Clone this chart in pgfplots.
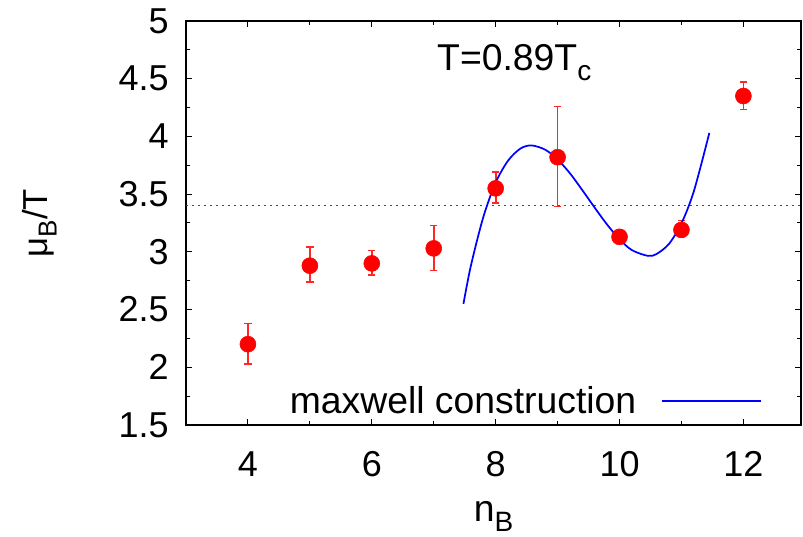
\documentclass[border=0pt]{standalone}
\usepackage{fontspec}
\setmainfont{Liberation Sans}
\usepackage{graphicx}
\usepackage{pgfplots}
\pgfplotsset{compat=1.18}
\usetikzlibrary{calc}
% gnuplot-like lowered subscript
\newcommand{\sub}[1]{\raisebox{-0.27em}{\scalebox{0.75}{#1}}}
\pgfplotsset{longsample/.style={legend image code/.code={\draw[##1] (0pt,0pt) -- (74pt,0pt);}}}

\begin{document}
\begin{tikzpicture}
\begin{axis}[
  scale only axis,
  width=461.25pt, height=303pt,
  xmin=3, xmax=12.93, ymin=1.5, ymax=5,
  xtick={4,6,8,10,12},
  ytick={1.5,2,2.5,3,3.5,4,4.5,5},
  minor x tick num=1, minor y tick num=1,
  tick align=inside,
  major tick length=4.5pt, minor tick length=3pt,
  every tick/.style={black, line width=0.75pt},
  axis line style={line width=1.2pt},
  /pgf/number format/assume math mode=true,
  tick label style={font=\fontsize{27}{30}\selectfont, inner sep=0pt},
  xticklabel style={yshift=-19.5pt},
  yticklabel style={xshift=-12.75pt},
  xlabel={n\sub{B}},
  ylabel={μ\sub{B}/T},
  xlabel style={font=\fontsize{28}{32}\selectfont, at={(rel axis cs:0.5,0)}, anchor=base, yshift=-72.5pt},
  ylabel style={font=\fontsize{26}{30}\selectfont, at={($(rel axis cs:0,0.5)+(-110pt,0)$)}, anchor=center},
  legend style={draw=none, fill=none, inner sep=0pt,
    at={(axis description cs:0.9366,0.0594)}, anchor=east,
    font=\fontsize{28}{32}\selectfont, column sep=18.75pt,
    nodes={inner sep=0pt}},
  legend plot pos=right,
]

% horizontal reference line
\addplot[draw=blue!80!white, line width=1pt, dash pattern=on 1.6pt off 2.9pt, forget plot]
  coordinates {(3,3.4) (12.93,3.4)};

% lattice data with errors
\addplot[only marks, mark=*, mark size=6pt, color=red, forget plot,
  error bars/.cd, y dir=both, y explicit,
  error bar style={draw=red!85!white, line width=1.3pt},
  error mark options={draw=red!85!white, rotate=90, mark size=2.75pt, line width=1.1pt}]
  table[x=x, y=y, y error plus=ep, y error minus=em] {
x  y    ep    em
4  2.20 0.18  0.17
5  2.88 0.16  0.14
6  2.90 0.11  0.10
7  3.03 0.20  0.19
8  3.55 0.14  0.125
9  3.82 0.44  0.425
10 3.13 0.02  0.02
11 3.19 0.08  0.05
12 4.35 0.12  0.115
};

% maxwell construction curve
\addplot[blue, line width=1.3pt, smooth, longsample]
  coordinates {
(7.48,2.55) (7.6,2.88) (7.8,3.30) (8.0,3.60) (8.2,3.79) (8.4,3.895)
(8.578,3.922) (8.8,3.885) (9.0,3.80) (9.2,3.68) (9.4,3.534) (9.6,3.382)
(9.8,3.236) (10.0,3.109) (10.2,3.015) (10.46,2.965) (10.6,2.982)
(10.8,3.07) (11.0,3.247) (11.2,3.525) (11.45,4.03)
};
\addlegendentry{maxwell construction}

\node[anchor=base, font=\fontsize{28}{32}\selectfont] at (axis cs:8.30,4.569) {T=0.89T\sub{c}};
\end{axis}
\pgfresetboundingbox
\path ($(current axis.south west)+(-139.5pt,-84pt)$) rectangle ($(current axis.north east)+(1.5pt,15.75pt)$);
\end{tikzpicture}
\end{document}
